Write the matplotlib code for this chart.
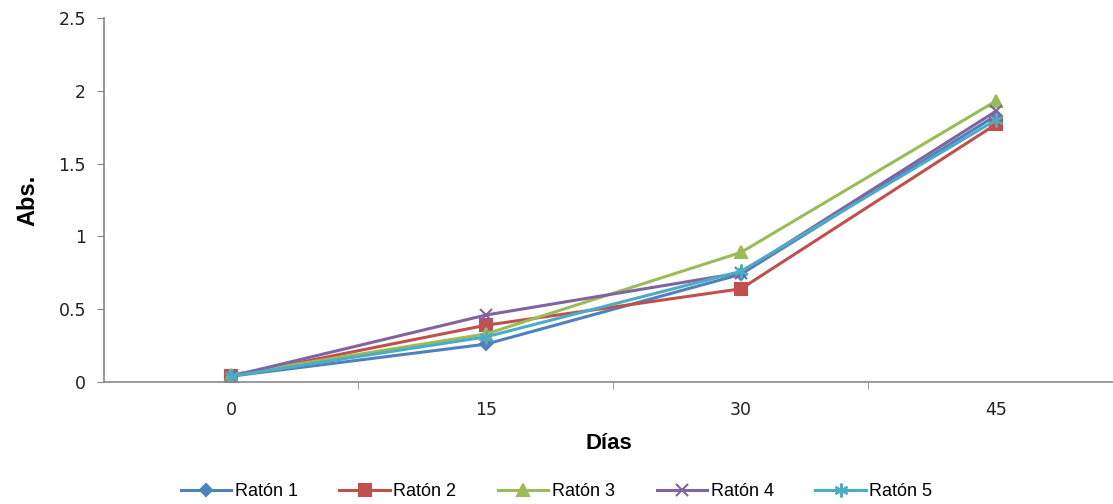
import matplotlib
matplotlib.use("Agg")
import matplotlib.pyplot as plt
import numpy as np

dias = ["0", "15", "30", "45"]
raton1 = [0.04, 0.26, 0.74, 1.83]
raton2 = [0.04, 0.39, 0.64, 1.77]
raton3 = [0.05, 0.33, 0.89, 1.93]
raton4 = [0.04, 0.46, 0.75, 1.86]
raton5 = [0.04, 0.31, 0.76, 1.80]
series_names = ["Ratón 1", "Ratón 2", "Ratón 3", "Ratón 4", "Ratón 5"]

colors = ["#4F81BD", "#C0504D", "#9BBB59", "#8064A2", "#4BACC6"]
markers = ["D", "s", "^", "x", (6, 2, 0)]
msizes = [6, 9, 9, 9, 10]

fig = plt.figure(figsize=(11.13, 5.04), dpi=100)
ax = fig.add_axes([104/1113, 1-382/504, 1-104/1113, (382-18)/504])

x = np.arange(len(dias))
for vals, name, c, m, ms in zip([raton1, raton2, raton3, raton4, raton5],
                                series_names, colors, markers, msizes):
    ax.plot(x, vals, color=c, marker=m, markersize=ms, linewidth=2.2,
            markeredgecolor=c, markeredgewidth=1.5, label=name)

ax.set_xlim(-0.498, 3.459)
ax.set_ylim(0, 2.5)
ax.set_yticks([0, 0.5, 1, 1.5, 2, 2.5])
ax.set_yticklabels(["0", "0.5", "1", "1.5", "2", "2.5"])
ax.set_xticks(x)
ax.set_xticklabels(dias)
ax.set_xticks([0.5, 1.5, 2.5], minor=True)
ax.tick_params(axis="x", which="major", length=0, pad=14, labelsize=12.5, labelcolor="#222222")
ax.tick_params(axis="x", which="minor", length=5, color="#888888", direction="out")
ax.tick_params(axis="y", length=5, color="#888888", direction="out", labelsize=12.5,
               labelcolor="#222222", pad=8)
for t in ax.get_xticklabels() + ax.get_yticklabels():
    t.set_family("DejaVu Sans")

for s in ["top", "right"]:
    ax.spines[s].set_visible(False)
ax.spines["left"].set_color("#888888")
ax.spines["bottom"].set_color("#888888")
ax.spines["left"].set_linewidth(1.2)
ax.spines["bottom"].set_linewidth(1.2)

ax.set_ylabel("Abs.", fontsize=17, fontweight="bold", family="Liberation Sans", labelpad=14)
ax.set_xlabel("Días", fontsize=16, fontweight="bold", family="Liberation Sans", labelpad=10)

leg = fig.legend(loc="center", bbox_to_anchor=(0.5, 1-492/504), ncol=5, frameon=False,
                 prop={"family": "Liberation Sans", "size": 13}, handlelength=2.8,
                 columnspacing=2.3, handletextpad=0.2)

fig.savefig("out.png", dpi=100)
